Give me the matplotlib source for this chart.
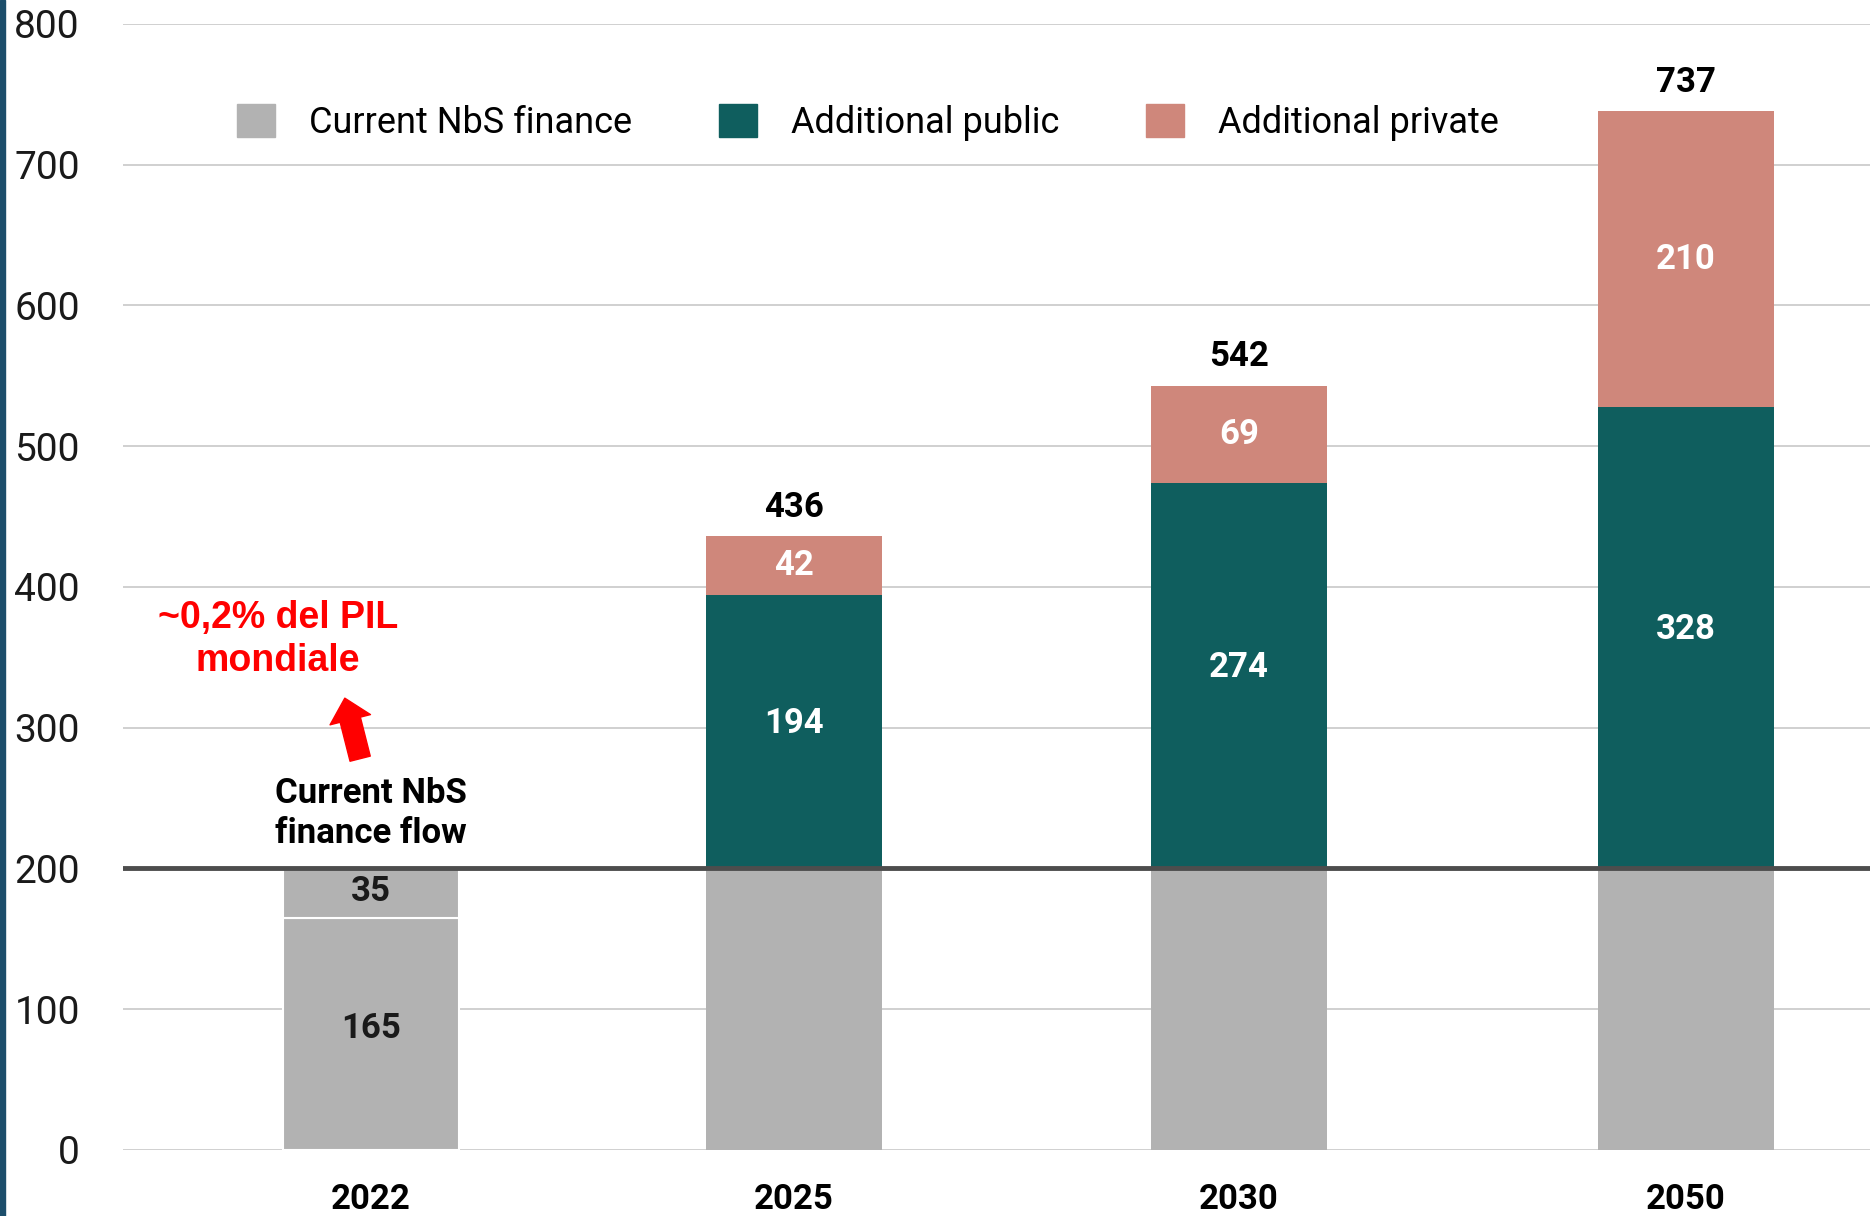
import numpy as np
import matplotlib.pyplot as plt
from matplotlib.patches import Patch, Rectangle

# Data
years = ['2022', '2025', '2030', '2050']
current_nbs = [200, 200, 200, 200]
split_2022 = [165, 35]
add_public = [0, 194, 274, 328]
add_private = [0, 42, 69, 210]
total_labels = ['', '436', '542', '737']

c_gray = '#b2b2b2'
c_teal = '#0f5e5e'
c_salmon = '#cf877b'

plt.rcParams['font.family'] = ['Roboto', 'DejaVu Sans']

fig = plt.figure(figsize=(18.7, 12.16), dpi=100)
ax = fig.add_axes([0.0658, 0.0543, 0.9342, 0.9260])

# bar centres (the first gap in the original is a little narrower)
x = np.array([0, 0.965, 1.98, 3])
w = 0.40
cur = np.array(current_nbs)
pub = np.array(add_public)
pri = np.array(add_private)

# current finance (2022 split into two segments)
ax.bar(x[1:], cur[1:], w, color=c_gray, zorder=2)
ax.bar(x[0], split_2022[0], w, color=c_gray, edgecolor='white', linewidth=1.5, zorder=2)
ax.bar(x[0], split_2022[1], w, bottom=split_2022[0], color=c_gray, edgecolor='white', linewidth=1.5, zorder=2)
ax.bar(x[1:], pub[1:], w, bottom=cur[1:], color=c_teal, zorder=2)
ax.bar(x[1:], pri[1:], w, bottom=cur[1:] + pub[1:], color=c_salmon, zorder=2)

# segment labels
seg_kw = dict(ha='center', va='center', fontsize=25, fontweight='bold', zorder=4)
ax.text(x[0], split_2022[0] / 2 + 4, str(split_2022[0]), color='#1a1a1a', **seg_kw)
ax.text(x[0], split_2022[0] + split_2022[1] / 2 + 1, str(split_2022[1]), color='#1a1a1a', **seg_kw)
for i in range(1, len(years)):
    ax.text(x[i], cur[i] + pub[i] / 2 + 6, str(pub[i]), color='white', **seg_kw)
    ax.text(x[i], cur[i] + pub[i] + pri[i] / 2, str(pri[i]), color='white', **seg_kw)
    ax.annotate(total_labels[i], (x[i], cur[i] + pub[i] + pri[i]), xytext=(0, 21),
                textcoords='offset points', ha='center', va='center',
                fontsize=25, fontweight='bold', color='black')

# 200 reference line
ax.axhline(200, color='#4d4d4d', linewidth=3.5, zorder=3)

# annotations
ax.text(x[0], 239, 'Current NbS\nfinance flow', ha='center', va='center', fontsize=25,
        fontweight='bold', color='black', linespacing=1.3)
ax.text(-0.212, 363, '~0,2% del PIL\nmondiale', ha='center', va='center', fontsize=27,
        fontweight='bold', color='red', family='Liberation Sans', linespacing=1.25)
ax.annotate('', xy=(-0.060, 321), xytext=(-0.025, 278),
            arrowprops=dict(arrowstyle='simple,head_length=0.8,head_width=1.5,tail_width=0.75',
                            color='red', mutation_scale=20, shrinkA=0, shrinkB=0))

# axes styling
ax.set_ylim(0, 800)
ax.set_xlim(-0.566, 3.42)
ax.set_yticks(range(0, 801, 100))
ax.set_xticks(x)
ax.set_xticklabels(years, fontsize=25, fontweight='bold')
ax.tick_params(axis='y', length=0, pad=31, labelsize=28, labelcolor='#1a1a1a')
ax.tick_params(axis='x', length=0, pad=24)
ax.grid(axis='y', color='#c8c8c8', linewidth=1.2, zorder=0)
ax.set_axisbelow(True)
for s in ax.spines.values():
    s.set_visible(False)

# legend
handles = [Patch(color=c_gray), Patch(color=c_teal), Patch(color=c_salmon)]
labels = ['Current NbS finance', 'Additional public', 'Additional private']
ax.legend(handles, labels, ncol=3, frameon=False, fontsize=26, loc='center left',
          bbox_to_anchor=(0.1267, 0.8995), bbox_transform=fig.transFigure,
          borderpad=0, borderaxespad=0, handlelength=1.05, handleheight=1.05,
          handletextpad=0.95, columnspacing=2.4)

# left blue stripe
fig.patches.append(Rectangle((0, 0), 5 / 1870, 1, transform=fig.transFigure,
                             color='#1c4e6b', zorder=10))

fig.savefig('out.png', dpi=100)
